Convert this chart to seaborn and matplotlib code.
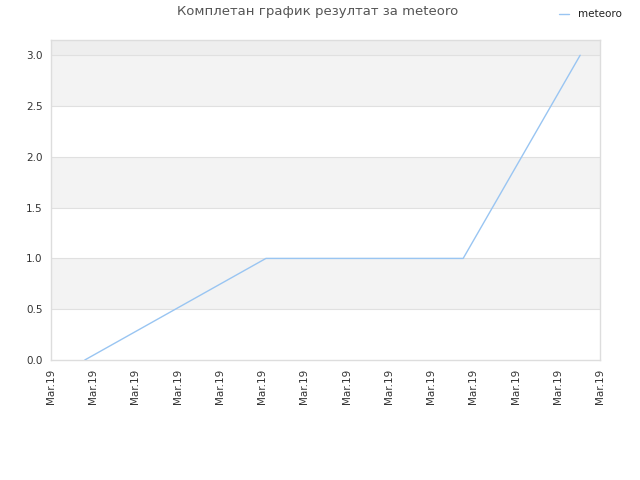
import matplotlib
matplotlib.use("Agg")
import matplotlib.pyplot as plt
import seaborn as sns
import pandas as pd

title = "Комплетан график резултат за meteoro"
series_name = "meteoro"
x_pos = [0.8, 5.09, 9.76, 12.53]
y_vals = [0, 1, 1, 3]
x_ticks = list(range(14))
x_tick_labels = ["Mar.19"] * 14
y_ticks = [0.0, 0.5, 1.0, 1.5, 2.0, 2.5, 3.0]

sns.set_style("white")
plt.rcParams['font.family'] = ['DejaVu Sans']

fig = plt.figure(figsize=(6.4, 4.8), dpi=100)
ax = fig.add_axes([51/640, 120/480, 549/640, 320/480])

df = pd.DataFrame({"x": x_pos, "y": y_vals, "s": series_name})
ymax = 3.15
ax.set_xlim(0, 13)
ax.set_ylim(0, ymax)
for lo in [0.5, 1.5, 2.5]:
    ax.axhspan(lo, lo + 0.5, color="#f3f3f3", zorder=0, lw=0)
ax.axhspan(3.0, ymax, color="#eeeeee", zorder=0, lw=0)
for yt in y_ticks[1:]:
    ax.axhline(yt, color="#e0e0e0", lw=0.8, zorder=1)

sns.lineplot(data=df, x="x", y="y", hue="s", palette=["#99c5f2"], lw=1.0, ax=ax, zorder=3)

ax.set_xticks(x_ticks)
ax.set_xticklabels(x_tick_labels, rotation=90, fontsize=7.5, color="#333333")
ax.set_yticks(y_ticks)
ax.set_yticklabels([f"{v:.1f}" for v in y_ticks], fontsize=7.5, color="#333333")
ax.tick_params(axis="both", length=0, pad=6)
ax.set_xlabel("")
ax.set_ylabel("")
for sp in ax.spines.values():
    sp.set_color("#dddddd")
    sp.set_linewidth(1.0)

leg = ax.legend(loc="upper right", bbox_to_anchor=(631/640, 1.0), bbox_transform=fig.transFigure,
                frameon=False, fontsize=7.5, handlelength=1.0, handletextpad=0.8)
for t in leg.get_texts():
    t.set_color("#222222")

fig.text(318/640, 1 - 12/480, title, ha="center", va="center", fontsize=9.5, color="#555555")

fig.savefig("out.png", dpi=100)
